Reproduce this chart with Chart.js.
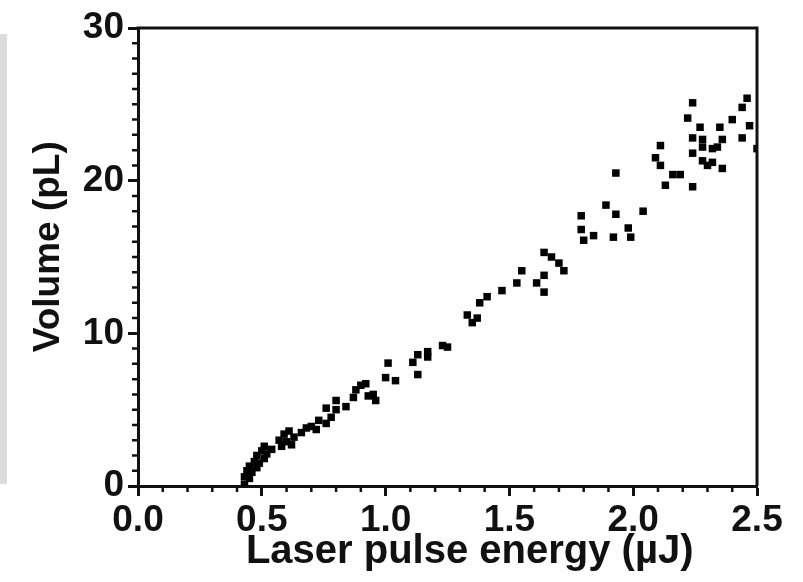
<!DOCTYPE html>
<html><head><meta charset="utf-8">
<script src="https://cdn.jsdelivr.net/npm/chart.js@4"></script>
<style>
html,body{margin:0;padding:0;background:#fff;}
#wrap{position:relative;width:803px;height:582px;overflow:hidden;}
#band{position:absolute;left:0;top:34px;width:7px;height:450px;background:#dcdcdc;}
canvas{position:absolute;left:0;top:0;}
</style></head><body>
<div id="wrap"><div id="band"></div><canvas id="c" width="803" height="582"></canvas></div>
<script>
const energy = [0.43,0.43,0.44,0.45,0.45,0.46,0.47,0.48,0.48,0.49,0.50,0.51,0.51,0.52,0.54,
  0.57,0.58,0.59,0.60,0.61,0.62,0.63,0.66,0.68,0.70,0.72,0.73,0.76,0.76,0.78,0.80,0.80,0.84,
  0.87,0.88,0.90,0.92,0.93,0.95,0.96,1.00,1.01,1.04,1.11,1.13,1.13,1.17,1.17,1.23,1.25,
  1.33,1.35,1.37,1.38,1.41,1.47,1.53,1.55,1.61,1.64,1.64,1.64,1.67,1.70,1.72,
  1.79,1.79,1.80,1.84,1.89,1.92,1.93,1.93,1.98,1.99,2.04,2.09,2.11,2.11,2.13,2.16,2.19,
  2.22,2.24,2.24,2.24,2.24,2.27,2.28,2.28,2.28,2.30,2.32,2.32,2.34,2.35,2.36,2.36,
  2.40,2.44,2.46,2.44,2.47,2.50];
const volume = [0.1,0.6,1.0,0.5,1.3,0.9,1.6,1.2,2.0,1.5,2.3,1.8,2.6,2.1,2.4,
  3.0,2.6,3.4,2.9,3.6,2.7,3.2,3.5,3.8,3.9,3.7,4.3,4.1,5.1,4.5,5.6,5.0,5.2,
  5.8,6.3,6.6,6.7,5.9,6.0,5.6,7.1,8.05,6.9,8.1,8.6,7.3,8.8,8.45,9.2,9.1,
  11.2,10.7,11.0,12.0,12.4,12.8,13.3,14.1,13.3,13.8,12.7,15.3,15.0,14.6,14.1,
  17.7,16.8,16.1,16.4,18.4,16.3,17.8,20.5,16.9,16.3,18.0,21.5,21.0,22.3,19.7,20.4,20.4,
  24.1,25.1,22.8,21.8,19.6,23.5,22.7,22.2,21.3,21.0,22.1,21.2,22.2,23.5,22.7,20.8,
  24.0,24.8,25.4,22.8,23.6,22.1];
const xTickLabels = ['0.0','0.5','1.0','1.5','2.0','2.5'];
const yTickLabels = ['0','10','20','30'];
const xTitle = 'Laser pulse energy (µJ)';
const yTitle = 'Volume (pL)';

const points = energy.map((e,i)=>({x:e, y:volume[i]}));
const FONT = '"Liberation Sans", Arial, sans-serif';

const frame = {
  id:'frame',
  afterDraw(chart){
    const {ctx, chartArea:a, scales:{x,y}} = chart;
    ctx.save();
    ctx.strokeStyle = '#111';
    ctx.lineWidth = 3;
    ctx.beginPath();
    ctx.moveTo(a.left-1.5, a.top);
    ctx.lineTo(a.right, a.top);
    ctx.lineTo(a.right, a.bottom);
    ctx.stroke();
    ctx.lineWidth = 2.5;
    ctx.beginPath();
    for (let i=1;i<25;i++){
      if (i%5===0) continue;
      const px = x.getPixelForValue(i/10);
      ctx.moveTo(px, a.bottom);
      ctx.lineTo(px, a.bottom+6);
    }
    for (let j=1;j<30;j++){
      if (j%10===0) continue;
      const py = y.getPixelForValue(j);
      ctx.moveTo(a.left, py);
      ctx.lineTo(a.left-6, py);
    }
    ctx.stroke();
    ctx.restore();
  }
};

new Chart(document.getElementById('c'), {
  type:'scatter',
  data:{datasets:[{data:points, backgroundColor:'#000', borderWidth:0,
    pointStyle:'rect', pointRadius:5.3, pointHoverRadius:5.3}]},
  options:{
    responsive:false, animation:false,
    layout:{padding:{left:0,right:46,top:28,bottom:0}},
    plugins:{legend:{display:false}, tooltip:{enabled:false}},
    scales:{
      x:{type:'linear', min:0, max:2.5,
        afterFit(s){ s.height = 96; },
        ticks:{stepSize:0.5, autoSkip:false, maxRotation:0, padding:3, color:'#111',
          font:{family:FONT, size:37, weight:'bold'},
          callback:(v)=>{ const i = Math.round(v*2); return (Math.abs(v*2-i)<1e-6)? xTickLabels[i] : ''; }},
        grid:{drawOnChartArea:false, tickLength:10, tickWidth:3, tickColor:'#111'},
        border:{display:true, width:3, color:'#111'},
        title:{display:true, text:'    '+xTitle, color:'#111', padding:{top:0,bottom:6},
          font:{family:FONT, size:40, weight:'bold'}}
      },
      y:{type:'linear', min:0, max:30,
        afterFit(s){ s.width = 138; },
        ticks:{stepSize:10, autoSkip:false, padding:4, color:'#111',
          font:{family:FONT, size:37, weight:'bold'},
          callback:(v)=>{ const i = Math.round(v/10); return yTickLabels[i]; }},
        grid:{drawOnChartArea:false, tickLength:10, tickWidth:3, tickColor:'#111'},
        border:{display:true, width:3, color:'#111'},
        title:{display:true, text:'  '+yTitle, color:'#111', padding:{top:27,bottom:0},
          font:{family:FONT, size:37, weight:'bold'}}
      }
    }
  },
  plugins:[frame]
});
</script>
</body></html>
